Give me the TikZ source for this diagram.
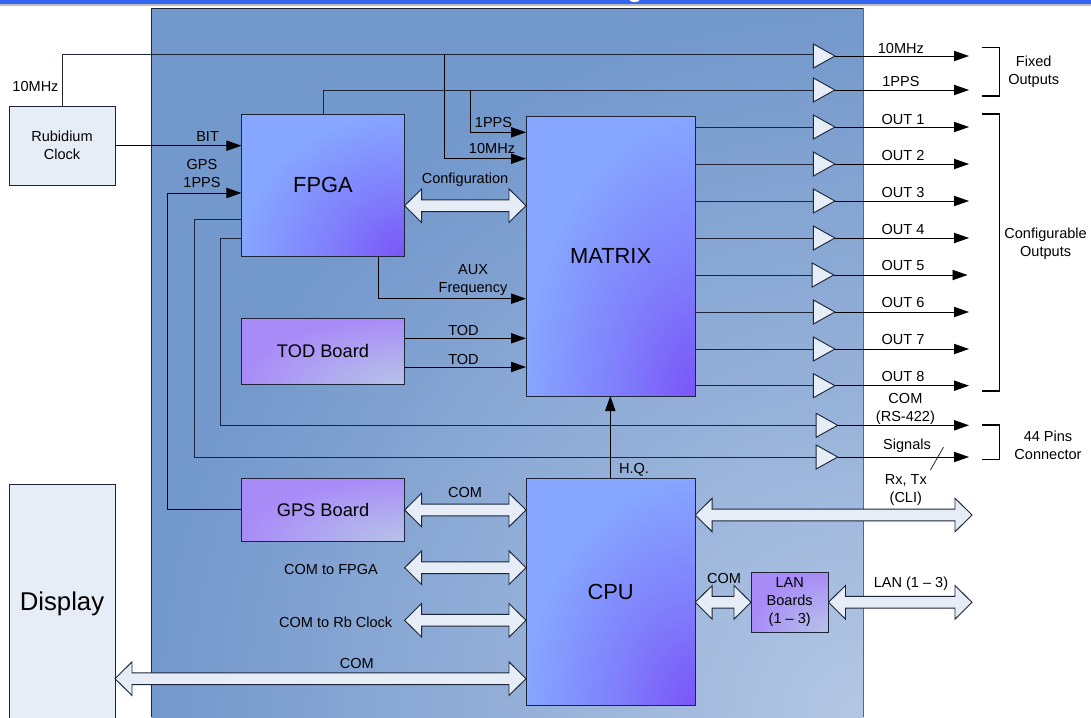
\documentclass[tikz,border=0pt]{standalone}
\usepackage{fontspec}
\setmainfont{Liberation Sans}
\usetikzlibrary{arrows.meta,calc}
\definecolor{chipA}{HTML}{86A6FF}
\definecolor{chipM}{HTML}{8082FC}
\definecolor{chipB}{HTML}{7A55F8}
\definecolor{brdA}{HTML}{A98BF8}
\definecolor{brdB}{HTML}{B6C4E8}
\definecolor{panA}{HTML}{7398CC}
\definecolor{panB}{HTML}{B4C7E4}
\definecolor{pale}{HTML}{E7EDF7}
\definecolor{inkline}{HTML}{1C2638}
\definecolor{topblue}{HTML}{3366F0}
\definecolor{topgrey}{HTML}{BDBDBD}
\pgfdeclareradialshading{chiprad}{\pgfpoint{0bp}{0bp}}{color(0bp)=(chipB); color(12.5bp)=(chipM); color(25bp)=(chipA); color(50bp)=(chipA)}
\pgfdeclareradialshading{boardrad}{\pgfpoint{0bp}{0bp}}{color(0bp)=(brdB); color(25bp)=(brdA); color(50bp)=(brdA)}
\pgfdeclareradialshading{panelrad}{\pgfpoint{0bp}{0bp}}{color(0bp)=(panB); color(25bp)=(panA); color(50bp)=(panA)}
\tikzset{
  cornerfill/.style={path picture={\shade[shading=#1] let
     \p1=($(path picture bounding box.north west)-(path picture bounding box.south east)$),
     \n1={abs(\x1)}, \n2={abs(\y1)} in
     (path picture bounding box.south east) ellipse [x radius=\n1,y radius=\n2];}},
  fs/.style={font=\fontsize{10.9}{13.5}\selectfont,inner sep=0pt,align=center,text=black},
  fm/.style={font=\fontsize{13.7}{16}\selectfont,inner sep=0pt,align=center},
  fb/.style={font=\fontsize{16.4}{19}\selectfont,inner sep=0pt,align=center},
  fd/.style={font=\fontsize{19.3}{22}\selectfont,inner sep=0pt,align=center},
  box/.style={draw=inkline,line width=0.7pt,inner sep=0pt,outer sep=0pt,anchor=north west},
  palebox/.style={box,fill=pale},
  chip/.style={box,fill=chipA,cornerfill=chiprad},
  board/.style={box,fill=brdA,cornerfill=boardrad},
  wire/.style={draw=inkline,line width=0.7pt},
  sig/.style={wire,-{Triangle[length=11.25pt,width=7.7pt]},black},
  ampbody/.style={draw=inkline,line width=0.7pt,fill=pale,line join=miter},
  dbl/.style={draw=inkline,line width=0.7pt,fill=pale,line join=miter},
  brack/.style={draw=black,line width=1.2pt}
}
\newcommand{\ampli}[3]{%
  \coordinate (#1-in) at (#2,#3);
  \coordinate (#1-out) at ({#2+21.5},#3);}
\newcommand{\dblarrow}[2]{%
  \draw[dbl] let \p1=#1, \p2=#2 in
    (\x1,\y1) -- (\x1+12.75pt,\y1+12.6pt) -- (\x1+12.75pt,\y1+4.4pt)
    -- (\x2-12.75pt,\y2+4.4pt) -- (\x2-12.75pt,\y2+12.6pt) -- (\x2,\y2)
    -- (\x2-12.75pt,\y2-12.6pt) -- (\x2-12.75pt,\y2-4.4pt)
    -- (\x1+12.75pt,\y1-4.4pt) -- (\x1+12.75pt,\y1-12.6pt) -- cycle;}
\begin{document}
\begin{tikzpicture}[x=0.75pt,y=-0.75pt]
\useasboundingbox (0,0) rectangle (1091,717);
\clip (0,0) rectangle (1091,717);
\fill[white] (0,0) rectangle (1091,717);
% top strip
\fill[topgrey] (0,4) rectangle (1091,6);
\fill[topblue] (0,0) rectangle (1091,4);
\begin{scope}
\clip (0,0) rectangle (1091,4);
\node[font=\fontsize{18}{20}\bfseries\selectfont,text=white,inner sep=0pt,anchor=base] at (635,-2.5) {g};
\end{scope}
% panel
\path[fill=panA,cornerfill=panelrad] (151.5,8.5) rectangle (863.5,717);
\draw[inkline,line width=0.7pt] (151.5,717) -- (151.5,8.5) -- (863.5,8.5);
\draw[inkline!70!white,line width=1pt] (863.5,8.5) -- (863.5,717);

% boxes
\node[palebox,minimum width=79.5pt,minimum height=59.25pt,fs] (rb) at (9,106) {Rubidium\\Clock};
\node[palebox,minimum width=79.5pt,minimum height=180pt,anchor=north west,fd] (disp) at (9,484) {Display};
\node[chip,minimum width=122.4pt,minimum height=106.9pt,fb] (fpga) at (241.4,114) {FPGA};
\node[chip,minimum width=126.9pt,minimum height=209.5pt,fb] (matrix) at (526,116.7) {MATRIX};
\node[chip,minimum width=126.9pt,minimum height=170.5pt,fb] (cpu) at (526,478) {CPU};
\node[board,minimum width=122.4pt,minimum height=49.5pt,fm] (tod) at (241.4,318.3) {TOD Board};
\node[board,minimum width=122.4pt,minimum height=47.5pt,fm] (gps) at (241.4,478) {GPS Board};
\node[board,minimum width=58.1pt,minimum height=44.8pt,fs] (lan) at (751,572.3) {LAN\\Boards\\(1 – 3)};

% amplifiers
\ampli{a1}{813.4}{56}
\ampli{a2}{813.4}{90}
\ampli{o1}{813.4}{127}
\ampli{o2}{813.4}{164}
\ampli{o3}{813.4}{201}
\ampli{o4}{813.4}{238}
\ampli{o5}{812.2}{275}
\ampli{o6}{813.4}{312}
\ampli{o7}{813.4}{349}
\ampli{o8}{813.4}{385.7}
\ampli{c1}{816.2}{425.3}
\ampli{c2}{816.2}{457}

% free ends
\coordinate (tipx) at (969,0);
\coordinate (tipxb) at (967.5,0);
\coordinate (b10) at (62,54.5);
\coordinate (j10) at (444,54.5);
\coordinate (j1p) at (470.7,90);
\coordinate (f1p) at (323,90);

% 10 MHz and 1PPS distribution
\draw[wire] (rb.north -| b10) -- (b10) -- (a1-in |- b10);
\draw[sig] (j10) -- (444,158.7) -- (matrix.west |- 0,158.7);
\draw[wire] (fpga.north -| f1p) -- (f1p) -- (a2-in);
\draw[sig] (j1p) -- (470.7,132.3) -- (matrix.west |- 0,132.3);
% FPGA in/out
\draw[sig] (rb.east |- 0,145.7) -- (fpga.west |- 0,145.7);
\draw[sig] (gps.west |- 0,509.7) -- (167.4,509.7) -- (167.4,193) -- (fpga.west |- 0,193);
\draw[wire] (fpga.west |- 0,219.3) -- (194,219.3) -- (194,457) -- (c2-in);
\draw[wire] (fpga.west |- 0,238) -- (220,238) -- (220,425.3) -- (c1-in);
\draw[sig] (fpga.south -| 378.4,0) -- (378.4,298.7) -- (matrix.west |- 0,298.7);
\draw[sig] (tod.east |- 0,338.3) -- (matrix.west |- 0,338.3);
\draw[sig] (tod.east |- 0,367) -- (matrix.west |- 0,367);
\draw[sig] (cpu.north -| 610.3,0) -- (matrix.south -| 610.3,0);
% outputs
\foreach \n in {o1,o2,o3,o4,o5,o6,o7,o8}{
  \draw[wire] (matrix.east |- \n-in) -- (\n-in);
}
\foreach \n in {a1,a2,o1,o2,o3,o4,o6,o7,o8,c1,c2}{
  \draw[sig] (\n-out) -- (\n-out -| tipx);
}
\draw[sig] (o5-out) -- (o5-out -| tipxb);

% amplifier bodies above the wires
\foreach \x/\y in {813.4/56,813.4/90,813.4/127,813.4/164,813.4/201,813.4/238,812.2/275,813.4/312,813.4/349,813.4/385.7,816.2/425.3,816.2/457}{
  \draw[ampbody] (\x,{\y-12}) -- ({\x+21.5},\y) -- (\x,{\y+12}) -- cycle;
}

% double arrows
\dblarrow{(fpga.east |- 0,205.7)}{(matrix.west |- 0,205.7)}
\dblarrow{(gps.east |- 0,510)}{(cpu.west |- 0,510)}
\coordinate (cf) at (404.6,567.7);
\coordinate (cr) at (404.6,620.3);
\dblarrow{(cf)}{(cpu.west |- cf)}
\dblarrow{(cr)}{(cpu.west |- cr)}
\dblarrow{(disp.east |- 0,678.7)}{(cpu.west |- 0,678.7)}
\coordinate (rxend) at (972,515);
\dblarrow{(cpu.east |- rxend)}{(rxend)}
\coordinate (lanend) at (972,602.3);
\dblarrow{(cpu.east |- lanend)}{(lan.west |- lanend)}
\dblarrow{(lan.east |- lanend)}{(lanend)}

% slash
\coordinate (s1) at (943.4,447.3);
\coordinate (s2) at (930.4,470);
\draw[inkline,line width=0.6pt] (s1) -- (s2);

% brackets
\draw[brack] (982,47.7) -- (999.5,47.7) -- (999.5,95.7) -- (982,95.7);
\draw[brack] (982,113.7) -- (999.5,113.7) -- (999.5,391) -- (982,391);
\draw[brack] (982,425) -- (999.5,425) -- (999.5,459.3) -- (982,459.3);

% labels
\node[fs] (t1) at (35.5,86.7) {10MHz};
\node[fs] (t2) at (207.6,136.7) {BIT};
\node[fs] (t3) at (202,173.7) {GPS\\1PPS};
\node[fs] (t4) at (493.5,122.7) {1PPS};
\node[fs] (t5) at (492,148) {10MHz};
\node[fs] (t6) at (465,180) {Configuration};
\node[fs] (t7) at (473,280) {AUX\\Frequency};
\node[fs] (t8) at (463.5,330.7) {TOD};
\node[fs] (t9) at (463.5,359.5) {TOD};
\node[fs] (t10) at (900.9,48) {10MHz};
\node[fs] (t11) at (900.9,81.7) {1PPS};
\node[fs] (q1) at (903,119) {OUT 1};
\node[fs] (q2) at (903,155.7) {OUT 2};
\node[fs] (q3) at (903,192.7) {OUT 3};
\node[fs] (q4) at (903,229.7) {OUT 4};
\node[fs] (q5) at (903,265.7) {OUT 5};
\node[fs] (q6) at (903,302.7) {OUT 6};
\node[fs] (q7) at (903,339.7) {OUT 7};
\node[fs] (q8) at (903,376.7) {OUT 8};
\node[fs] (t12) at (905.4,408.8) {COM\\(RS-422)};
\node[fs] (t13) at (907,446) {Signals};
\node[fs] (t14) at (905.8,490) {Rx, Tx\\(CLI)};
\node[fs] (t15) at (634,469.7) {H.Q.};
\node[fs] (t16) at (724,578) {COM};
\node[fs] (t17) at (911,584) {LAN (1 – 3)};
\node[fs] (t18) at (1033.7,71.8) {Fixed\\Outputs};
\node[fs] (t19) at (1045.6,244) {Configurable\\Outputs};
\node[fs] (t20) at (1048,445) {44 Pins\\Connector};
\node[fs] (t21) at (465,492.7) {COM};
\node[fs] (t22) at (331,569) {COM to FPGA};
\node[fs] (t23) at (335.7,622) {COM to Rb Clock};
\node[fs] (t24) at (356.8,663.7) {COM};
\end{tikzpicture}
\end{document}
